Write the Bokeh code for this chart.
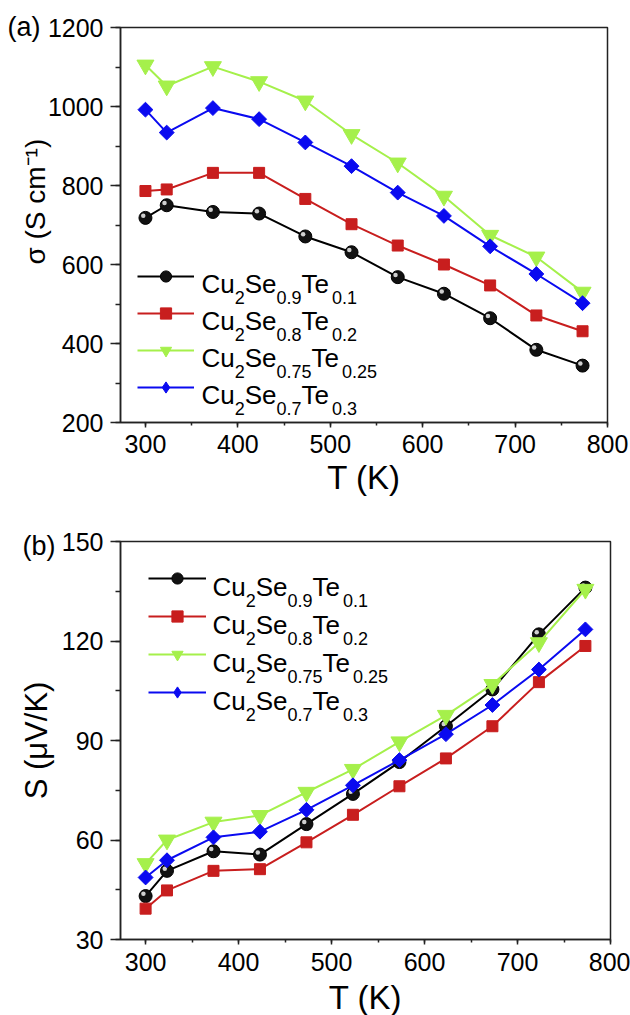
import numpy as np
from bokeh.plotting import figure
from bokeh.models import (ColumnDataSource, Range1d, SingleIntervalTicker, Legend,
                          LegendItem, Label, Title)
from bokeh.core.properties import value
from bokeh.layouts import column
from bokeh.embed import file_html
from bokeh.resources import INLINE

# ---------------- data ----------------
T = [300, 323, 373, 423, 473, 523, 573, 623, 673, 723, 773]

sigma_te01 = [718, 750, 733, 729, 671, 631, 568, 526, 464, 384, 344]
sigma_te02 = [786, 790, 832, 832, 766, 702, 648, 600, 547, 471, 431]
sigma_te025 = [1105, 1052, 1101, 1063, 1014, 929, 857, 773, 674, 619, 530]
sigma_te03 = [992, 934, 996, 968, 909, 849, 782, 723, 646, 576, 502]

S_te01 = [43.1, 50.7, 56.6, 55.6, 64.8, 73.9, 83.5, 94.3, 105.4, 122.0, 136.1]
S_te02 = [39.3, 44.8, 50.7, 51.2, 59.3, 67.6, 76.2, 84.6, 94.3, 107.6, 118.5]
S_te025 = [52.9, 60.0, 65.4, 67.4, 74.4, 81.3, 89.6, 97.6, 106.9, 119.5, 135.6]
S_te03 = [48.7, 53.9, 60.8, 62.5, 69.1, 76.5, 84.1, 91.9, 100.7, 111.4, 123.5]

# formula pieces: (text, is_subscript)
formulas = [
    [("Cu", 0), ("2", 1), ("Se", 0), ("0.9", 1), ("Te", 0), ("0.1", 1)],
    [("Cu", 0), ("2", 1), ("Se", 0), ("0.8", 1), ("Te", 0), ("0.2", 1)],
    [("Cu", 0), ("2", 1), ("Se", 0), ("0.75", 1), ("Te", 0), ("0.25", 1)],
    [("Cu", 0), ("2", 1), ("Se", 0), ("0.7", 1), ("Te", 0), ("0.3", 1)],
]

x_ticks_interval = 100
# ---------------- styles ----------------
FONT = "Liberation Sans"
colors = ["#000000", "#C81E1E", "#A5F04B", "#0A0AF0"]
markers = ["circle", "square", "inverted_triangle", "square"]
legend_markers = ["circle", "square", "inverted_triangle", "diamond"]
angles = [0, 0, 0, np.pi / 4]
msizes = [13, 11, 17, 10.5]
fills = ["#111111", "#C81E1E", "#A5F04B", "#0A0AF0"]

# Arial / Liberation Sans advance widths (em)
ADV = {"C": 0.722, "u": 0.556, "S": 0.667, "e": 0.556, "T": 0.611, ".": 0.278}
for d in "0123456789":
    ADV[d] = 0.556


def text_width(t, size):
    return sum(ADV.get(c, 0.556) for c in t) * size


def add_formula(p, x0, y0, parts, main=26, sub=18, drop=14):
    x = x0
    for txt, is_sub in parts:
        size = sub if is_sub else main
        p.add_layout(Label(x=x, y=y0 - (drop if is_sub else 0), x_units="screen",
                           y_units="screen", text=txt, text_font=FONT,
                           text_font_size=f"{size}px", text_baseline="alphabetic",
                           text_align="left", text_color="black"))
        x += text_width(txt, size)


def make_fig(fw, fh, xr, yr, yint, mb):
    p = figure(frame_width=fw, frame_height=fh, x_range=Range1d(*xr), y_range=Range1d(*yr),
               output_backend="svg", toolbar_location=None,
               min_border_left=mb[0], min_border_right=mb[1],
               min_border_top=mb[2], min_border_bottom=mb[3])
    p.grid.visible = False
    p.background_fill_color = "white"
    p.border_fill_color = "white"
    p.outline_line_color = "#222222"
    p.outline_line_width = 1.5
    p.xaxis.ticker = SingleIntervalTicker(interval=x_ticks_interval, num_minor_ticks=2)
    p.yaxis.ticker = SingleIntervalTicker(interval=yint, num_minor_ticks=2)
    for ax in (p.xaxis[0], p.yaxis[0]):
        ax.axis_line_width = 1.5
        ax.axis_line_color = "#222222"
        ax.major_tick_line_width = 1.5
        ax.minor_tick_line_width = 1.5
        ax.major_tick_line_color = "#222222"
        ax.minor_tick_line_color = "#222222"
        ax.major_tick_in = 0
        ax.minor_tick_in = 0
        ax.major_label_text_font = FONT
        ax.major_label_text_font_size = "25px"
        ax.major_label_text_color = "black"
        ax.axis_label_text_font = FONT
        ax.axis_label_text_font_style = "normal"
        ax.axis_label_text_color = "black"
    p.xaxis.axis_label_text_font_size = "33px"
    p.xaxis.major_tick_out = 5
    p.xaxis.minor_tick_out = 3
    p.yaxis.major_tick_out = 10
    p.yaxis.minor_tick_out = 5
    p.yaxis.major_label_standoff = 7
    p.xaxis.axis_label = "T (K)"
    return p


def draw_series(p, ys_list, xspan, yspan, fw, fh):
    items = []
    for ys, c, m, lm, a, s, f in zip(ys_list, colors, markers, legend_markers, angles,
                                     msizes, fills):
        src = ColumnDataSource(dict(x=T, y=ys))
        lr = p.line("x", "y", source=src, line_color=c, line_width=2)
        sr = p.scatter("x", "y", source=src, marker=m, angle=a, size=s, fill_color=f,
                       line_color=c)
        if m == "circle":
            # small highlight to mimic the shaded sphere
            hx = np.array(T) - 2.2 * xspan / fw
            hy = np.array(ys) + 2.2 * yspan / fh
            p.scatter(hx, hy, marker="circle", size=4.5, fill_color="#d0d0d0",
                      line_color=None)
        if lm != m:
            # legend-only glyph (hidden in the plot area)
            sr = p.scatter("x", "y", source=src, marker=lm, size=s, fill_color=f,
                           line_color=c, visible=False)
        items.append(LegendItem(label=value(" "), renderers=[lr, sr]))
    return items


def panel_tag(p, text, offset, standoff):
    p.add_layout(Title(text=text, align="left", offset=offset, standoff=standoff,
                       text_font=FONT, text_font_size="27px", text_font_style="normal",
                       text_color="black", vertical_align="bottom"), "above")


NB = "\u00a0"

# ---------------- panel (a) ----------------
FW1, FH1 = 487, 395
XR = (273, 800)
p1 = make_fig(FW1, FH1, XR, (200, 1200), 200, (120, 23, 27, 78))
p1.yaxis.axis_label = NB * 6 + "σ (S cm⁻¹)"
p1.yaxis.axis_label_text_font_size = "28px"
p1.yaxis.axis_label_standoff = -6
p1.xaxis.major_label_standoff = 7
p1.xaxis.axis_label_standoff = 3
items1 = draw_series(p1, [sigma_te01, sigma_te02, sigma_te025, sigma_te03],
                     XR[1] - XR[0], 1000, FW1, FH1)
leg1 = Legend(items=items1, location=(17, 21), spacing=9, padding=0, margin=0,
              glyph_height=28, glyph_width=57, label_height=28, label_width=0,
              label_standoff=0, label_text_font_size="1px",
              border_line_alpha=0, background_fill_alpha=0)
p1.add_layout(leg1)
for i, parts in enumerate(formulas):
    add_formula(p1, 81, 138.7 - 37 * i, parts)
panel_tag(p1, "(a)", -113, -28)

# ---------------- panel (b) ----------------
FW2, FH2 = 490, 398
p2 = make_fig(FW2, FH2, XR, (30, 150), 30, (120, 20, 41, 76))
p2.yaxis.axis_label = "S (μV/K)"
p2.yaxis.axis_label_text_font_size = "31px"
p2.yaxis.axis_label_standoff = 5
p2.xaxis.major_label_standoff = 8
p2.xaxis.axis_label_standoff = 5
items2 = draw_series(p2, [S_te01, S_te02, S_te025, S_te03],
                     XR[1] - XR[0], 120, FW2, FH2)
leg2 = Legend(items=items2, location=(28, 233), spacing=10, padding=0, margin=0,
              glyph_height=28, glyph_width=58, label_height=28, label_width=0,
              label_standoff=0, label_text_font_size="1px",
              border_line_alpha=0, background_fill_alpha=0)
p2.add_layout(leg2)
for i, parts in enumerate(formulas):
    add_formula(p2, 92, 353 - 38 * i, parts)
panel_tag(p2, "(b)", -98, -38)

layout = column(p1, p2, spacing=0)
open("out.html", "w").write(file_html(layout, INLINE))
